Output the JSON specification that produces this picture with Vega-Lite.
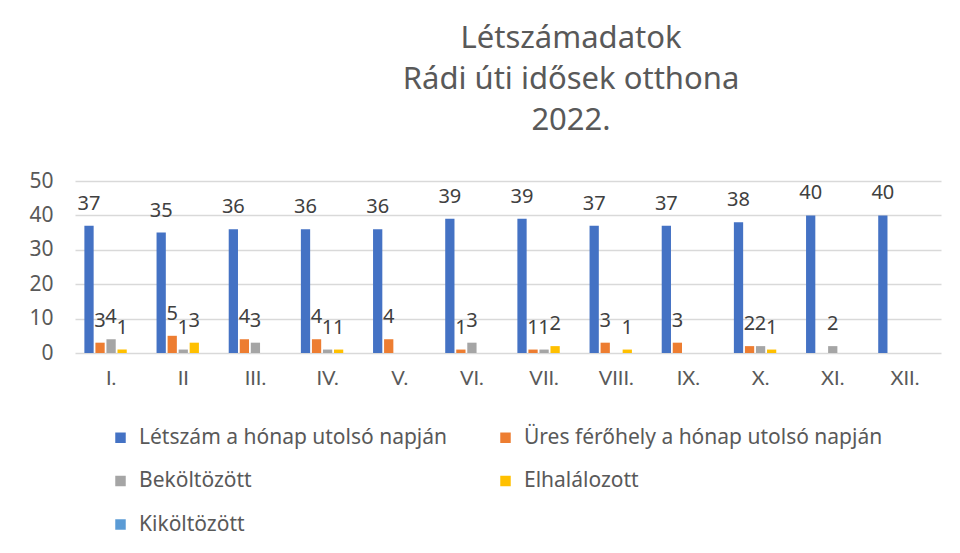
{
  "$schema": "https://vega.github.io/schema/vega-lite/v6.json",
  "width": 866,
  "height": 172,
  "autosize": {"type": "none"},
  "padding": {"left": 75, "top": 181, "right": 19, "bottom": 200},
  "background": "white",
  "title": {
    "text": ["Létszámadatok", "Rádi úti idősek otthona", "2022."],
    "anchor": "middle",
    "frame": "group",
    "dx": 63,
    "offset": 33,
    "fontSize": 31,
    "lineHeight": 41,
    "font": "Noto Sans",
    "fontWeight": "normal",
    "color": "#595959"
  },
  "data": {
    "values": [
      {"honap": "I.", "sorozat": "Létszám a hónap utolsó napján", "ertek": 37},
      {"honap": "I.", "sorozat": "Üres férőhely a hónap utolsó napján", "ertek": 3},
      {"honap": "I.", "sorozat": "Beköltözött", "ertek": 4},
      {"honap": "I.", "sorozat": "Elhalálozott", "ertek": 1},
      {"honap": "II", "sorozat": "Létszám a hónap utolsó napján", "ertek": 35},
      {"honap": "II", "sorozat": "Üres férőhely a hónap utolsó napján", "ertek": 5},
      {"honap": "II", "sorozat": "Beköltözött", "ertek": 1},
      {"honap": "II", "sorozat": "Elhalálozott", "ertek": 3},
      {"honap": "III.", "sorozat": "Létszám a hónap utolsó napján", "ertek": 36},
      {"honap": "III.", "sorozat": "Üres férőhely a hónap utolsó napján", "ertek": 4},
      {"honap": "III.", "sorozat": "Beköltözött", "ertek": 3},
      {"honap": "IV.", "sorozat": "Létszám a hónap utolsó napján", "ertek": 36},
      {"honap": "IV.", "sorozat": "Üres férőhely a hónap utolsó napján", "ertek": 4},
      {"honap": "IV.", "sorozat": "Beköltözött", "ertek": 1},
      {"honap": "IV.", "sorozat": "Elhalálozott", "ertek": 1},
      {"honap": "V.", "sorozat": "Létszám a hónap utolsó napján", "ertek": 36},
      {"honap": "V.", "sorozat": "Üres férőhely a hónap utolsó napján", "ertek": 4},
      {"honap": "VI.", "sorozat": "Létszám a hónap utolsó napján", "ertek": 39},
      {"honap": "VI.", "sorozat": "Üres férőhely a hónap utolsó napján", "ertek": 1},
      {"honap": "VI.", "sorozat": "Beköltözött", "ertek": 3},
      {"honap": "VII.", "sorozat": "Létszám a hónap utolsó napján", "ertek": 39},
      {"honap": "VII.", "sorozat": "Üres férőhely a hónap utolsó napján", "ertek": 1},
      {"honap": "VII.", "sorozat": "Beköltözött", "ertek": 1},
      {"honap": "VII.", "sorozat": "Elhalálozott", "ertek": 2},
      {"honap": "VIII.", "sorozat": "Létszám a hónap utolsó napján", "ertek": 37},
      {"honap": "VIII.", "sorozat": "Üres férőhely a hónap utolsó napján", "ertek": 3},
      {"honap": "VIII.", "sorozat": "Elhalálozott", "ertek": 1},
      {"honap": "IX.", "sorozat": "Létszám a hónap utolsó napján", "ertek": 37},
      {"honap": "IX.", "sorozat": "Üres férőhely a hónap utolsó napján", "ertek": 3},
      {"honap": "X.", "sorozat": "Létszám a hónap utolsó napján", "ertek": 38},
      {"honap": "X.", "sorozat": "Üres férőhely a hónap utolsó napján", "ertek": 2},
      {"honap": "X.", "sorozat": "Beköltözött", "ertek": 2},
      {"honap": "X.", "sorozat": "Elhalálozott", "ertek": 1},
      {"honap": "XI.", "sorozat": "Létszám a hónap utolsó napján", "ertek": 40},
      {"honap": "XI.", "sorozat": "Beköltözött", "ertek": 2},
      {"honap": "XII.", "sorozat": "Létszám a hónap utolsó napján", "ertek": 40}
    ]
  },
  "encoding": {
    "x": {
      "field": "honap",
      "type": "nominal",
      "sort": ["I.", "II", "III.", "IV.", "V.", "VI.", "VII.", "VIII.", "IX.", "X.", "XI.", "XII."],
      "scale": {"paddingInner": 0.26, "paddingOuter": 0.13},
      "axis": {
        "title": null,
        "labelAngle": 0,
        "domain": false,
        "ticks": false,
        "labelFontSize": 20,
        "labelFont": "Lato",
        "labelColor": "#595959",
        "labelPadding": 15
      }
    },
    "xOffset": {
      "field": "sorozat",
      "type": "nominal",
      "scale": {
        "domain": ["Létszám a hónap utolsó napján", "Üres férőhely a hónap utolsó napján", "Beköltözött", "Elhalálozott", "Kiköltözött"],
        "paddingInner": 0.16,
        "paddingOuter": 0
      }
    },
    "y": {
      "field": "ertek",
      "type": "quantitative",
      "scale": {"domain": [0, 50]},
      "axis": {
        "title": null,
        "values": [0, 10, 20, 30, 40, 50],
        "domain": false,
        "ticks": false,
        "grid": true,
        "gridColor": "#d9d9d9",
        "gridWidth": 1.5,
        "labelFontSize": 21,
        "labelFont": "Noto Sans",
        "labelColor": "#595959",
        "labelPadding": 22
      }
    }
  },
  "layer": [
    {
      "mark": {"type": "bar"},
      "encoding": {
        "color": {
          "field": "sorozat",
          "type": "nominal",
          "scale": {
            "domain": ["Létszám a hónap utolsó napján", "Üres férőhely a hónap utolsó napján", "Beköltözött", "Elhalálozott", "Kiköltözött"],
            "range": ["#4472C4", "#ED7D31", "#A5A5A5", "#FFC000", "#5B9BD5"]
          },
          "legend": {
            "title": null,
            "orient": "none",
            "legendX": 35,
            "legendY": 246,
            "direction": "horizontal",
            "columns": 2,
            "columnPadding": 47,
            "rowPadding": 21.5,
            "symbolType": "square",
            "symbolSize": 110,
            "symbolStrokeWidth": 0,
            "labelFontSize": 21,
            "labelFont": "Noto Sans",
            "labelColor": "#595959",
            "labelOffset": 8,
            "labelLimit": 500
          }
        }
      }
    },
    {
      "mark": {
        "type": "text",
        "baseline": "alphabetic",
        "dy": -16,
        "fontSize": 20,
        "font": "Noto Sans",
        "color": "#404040"
      },
      "encoding": {
        "text": {"field": "ertek", "type": "quantitative"}
      }
    }
  ],
  "config": {
    "font": "Noto Sans",
    "view": {"stroke": null}
  }
}
